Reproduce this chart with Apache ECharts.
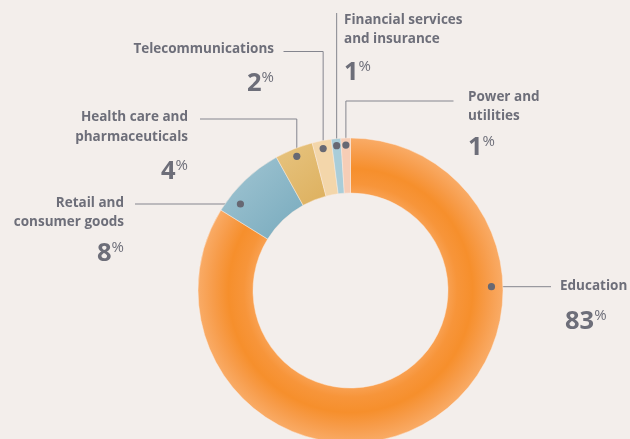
<!DOCTYPE html>
<html>
<head>
<meta charset="utf-8">
<script src="https://cdn.jsdelivr.net/npm/echarts@6/dist/echarts.min.js"></script>
<style>
  html, body { margin: 0; padding: 0; background: #f3eeeb; }
  #chart { width: 630px; height: 439px; }
</style>
</head>
<body>
<div id="chart"></div>
<script>
// Share of deployments by industry (%)
const categories = [
  'Education',
  'Retail and\nconsumer goods',
  'Health care and\npharmaceuticals',
  'Telecommunications',
  'Financial services\nand insurance',
  'Power and\nutilities'
];
const shares = [83, 8, 4, 2, 1, 1];

// Slice fills
const sliceColors = [
  null, // radial orange gradient, built below
  { type: 'linear', x: 0, y: 0, x2: 1, y2: 1, colorStops: [{ offset: 0, color: '#a3c6d3' }, { offset: 1, color: '#77aabd' }] },
  { type: 'linear', x: 0, y: 0, x2: 1, y2: 1, colorStops: [{ offset: 0, color: '#e7c480' }, { offset: 1, color: '#ddb05e' }] },
  '#f3d6aa',
  '#a9cdd9',
  '#f6cdb6'
];

// Geometry of the ring (pixels)
const CX = 350.5, CY = 290.5, R_IN = 97.5, R_OUT = 152.5;

sliceColors[0] = {
  type: 'radial', x: CX, y: CY, r: R_OUT, global: true,
  colorStops: [
    { offset: 0.62, color: '#f9a458' },
    { offset: 0.70, color: '#f7953a' },
    { offset: 0.80, color: '#f68f2c' },
    { offset: 0.90, color: '#f79c4a' },
    { offset: 1.00, color: '#f9ab66' }
  ]
};

// Callout placement for each category
//  kind 'h'     : horizontal leader at lineY, dot on ring (radius dotR)
//  kind 'elbow' : dot at slice middle, leader up to lineY then across to lineX
const callouts = [
  { kind: 'h', lineY: 286.7, lineX: 551, dotR: 141, tx: 560, align: 'left', nameY: 286, numX: 565, numY: 322 },
  { kind: 'h', lineY: 204, lineX: 135, dotR: 140, tx: 124, align: 'right', nameY: 203, numX: 124, numY: 254 },
  { kind: 'elbow', lineY: 119, lineX: 200, dotR: 144.5, tx: 188, align: 'right', nameY: 117.5, numX: 188, numY: 172 },
  { kind: 'elbow', lineY: 51.5, lineX: 283.5, dotR: 144.5, tx: 274, align: 'right', nameY: 49.5, numX: 274, numY: 84 },
  { kind: 'elbow', lineY: 13, lineX: null, dotR: 145.5, tx: 344, align: 'left', nameY: 20, numX: 344, numY: 73 },
  { kind: 'elbow', lineY: 101, lineX: 453.5, dotR: 145.5, tx: 468, align: 'left', nameY: 97, numX: 468, numY: 148 }
];

const TEXT = '#6d6e79';
const LINE = '#84858e';
const FONT = '"Open Sans", "Noto Sans", sans-serif';

const total = shares.reduce((a, b) => a + b, 0);
const graphics = [];
let acc = 0;
shares.forEach((v, i) => {
  const a0 = acc / total * 360;
  acc += v;
  const a1 = acc / total * 360;
  const mid = (a0 + a1) / 2 * Math.PI / 180;
  const c = callouts[i];
  let dx, dy;
  if (c.kind === 'h') {
    const off = c.lineY - CY;
    const side = c.lineX > CX ? 1 : -1;
    dx = CX + side * Math.sqrt(c.dotR * c.dotR - off * off);
    dy = c.lineY;
    graphics.push({ type: 'line', silent: true, shape: { x1: dx, y1: dy, x2: c.lineX, y2: dy }, style: { stroke: LINE, lineWidth: 1 } });
  } else {
    dx = CX + c.dotR * Math.sin(mid);
    dy = CY - c.dotR * Math.cos(mid);
    const pts = [[dx, dy], [dx, c.lineY]];
    if (c.lineX !== null) pts.push([c.lineX, c.lineY]);
    graphics.push({ type: 'polyline', silent: true, shape: { points: pts }, style: { stroke: LINE, lineWidth: 1, fill: null } });
  }
  graphics.push({ type: 'circle', silent: true, shape: { cx: dx, cy: dy, r: 3.6 }, style: { fill: '#676873' }, z: 110 });

  graphics.push({
    type: 'text', silent: true,
    style: {
      x: c.tx, y: c.nameY - 9.75, text: categories[i], fill: TEXT,
      font: 'bold 13.5px ' + FONT, lineHeight: 19.5, align: c.align, verticalAlign: 'top'
    }
  });
  graphics.push({
    type: 'text', silent: true,
    style: {
      x: c.numX, y: c.numY, text: '{n|' + v + '}{p|%}', align: c.align, verticalAlign: 'middle',
      rich: {
        n: { fontSize: 25.5, fontWeight: 700, fontFamily: FONT, fill: TEXT, color: TEXT, lineHeight: 28 },
        p: { fontSize: 15, fontWeight: 400, fontFamily: FONT, fill: TEXT, color: TEXT, lineHeight: 20, verticalAlign: 'top' }
      }
    }
  });
});

const chart = echarts.init(document.getElementById('chart'), null, { renderer: 'canvas' });
chart.setOption({
  backgroundColor: '#f3eeeb',
  animation: false,
  series: [{
    type: 'pie',
    center: [CX, CY],
    radius: [R_IN, R_OUT],
    startAngle: 90,
    clockwise: true,
    silent: true,
    label: { show: false },
    labelLine: { show: false },
    itemStyle: { borderColor: 'rgba(250,236,225,0.8)', borderWidth: 0.6 },
    data: categories.map((name, i) => ({ name, value: shares[i], itemStyle: { color: sliceColors[i] } }))
  }],
  graphic: graphics
});
</script>
</body>
</html>
